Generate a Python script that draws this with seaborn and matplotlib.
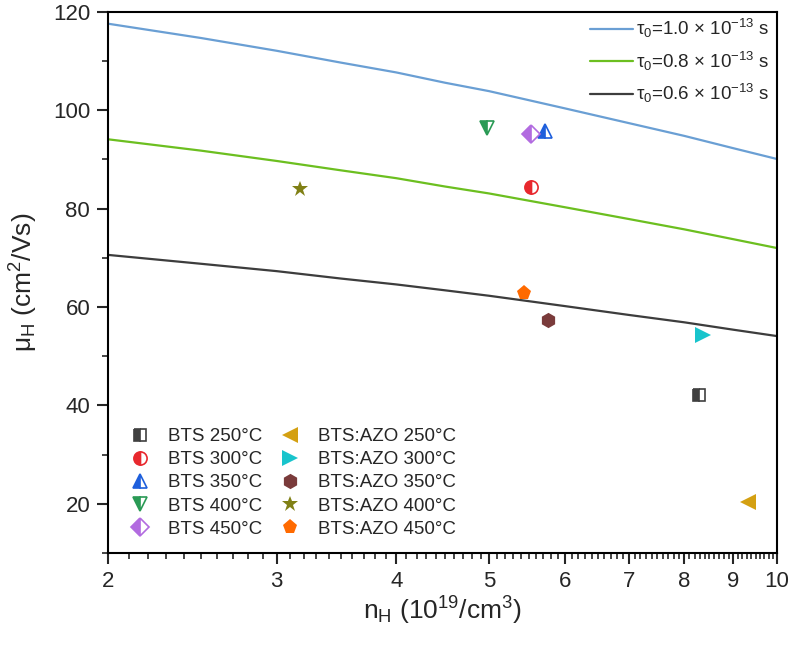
import matplotlib
matplotlib.use("Agg")
import matplotlib.pyplot as plt
from matplotlib.ticker import FixedLocator, FixedFormatter, MultipleLocator
import numpy as np
import pandas as pd
import seaborn as sns

# Curvas del modelo
n_curva = [2, 2.5, 3, 3.5, 4, 4.5, 5, 6, 7, 8, 9, 10]
mu_tau10 = [117.6, 114.7, 112.1, 109.7, 107.7, 105.6, 103.9, 100.4, 97.4, 94.8, 92.3, 90.1]
mu_tau08 = [94.1, 91.8, 89.7, 87.8, 86.2, 84.5, 83.1, 80.3, 77.9, 75.8, 73.8, 72.0]
mu_tau06 = [70.6, 68.8, 67.3, 65.8, 64.6, 63.4, 62.3, 60.2, 58.4, 56.9, 55.4, 54.1]
etiquetas_curva = [r"τ$_0$=1.0 × 10$^{-13}$ s",
                   r"τ$_0$=0.8 × 10$^{-13}$ s",
                   r"τ$_0$=0.6 × 10$^{-13}$ s"]
colores_curva = ["#6a9fd4", "#6cbf20", "#3d3d3d"]

# Puntos experimentales
etiquetas_bts = ["BTS 250°C", "BTS 300°C", "BTS 350°C", "BTS 400°C", "BTS 450°C"]
n_bts = [8.29, 5.53, 5.72, 4.98, 5.53]
mu_bts = [42.2, 84.4, 95.8, 96.4, 95.2]
etiquetas_azo = ["BTS:AZO 250°C", "BTS:AZO 300°C", "BTS:AZO 350°C",
                 "BTS:AZO 400°C", "BTS:AZO 450°C"]
n_azo = [9.33, 8.37, 5.76, 3.17, 5.44]
mu_azo = [20.4, 54.3, 57.4, 84.0, 62.9]

marcadores_bts = ["s", "o", "^", "v", "D"]
colores_bts = ["#404040", "#e8282e", "#1e5fdc", "#2a9a55", "#b26be0"]
tam_bts = [8, 9.5, 10, 10, 9]
marcadores_azo = ["<", ">", "h", "*", "p"]
colores_azo = ["#d4a012", "#18c4cc", "#7a3b3b", "#808015", "#ff6a00"]
tam_azo = [11, 11, 11, 12, 11]

sns.set_style("ticks")
plt.rcParams["font.family"] = ["Liberation Sans", "DejaVu Sans"]
plt.rcParams["mathtext.fontset"] = "custom"
plt.rcParams["mathtext.rm"] = "Liberation Sans"
plt.rcParams["mathtext.it"] = "Liberation Sans:italic"
plt.rcParams["mathtext.default"] = "rm"

fig = plt.figure(figsize=(7.9, 6.48), dpi=100)
ax = fig.add_axes([0.137, 0.1466, 0.8465, 0.835])

k = len(n_curva)
tabla = pd.DataFrame({
    "n": n_curva * 3,
    "mu": mu_tau10 + mu_tau08 + mu_tau06,
    "tau": [etiquetas_curva[0]] * k + [etiquetas_curva[1]] * k + [etiquetas_curva[2]] * k,
})
sns.lineplot(data=tabla, x="n", y="mu", hue="tau", hue_order=etiquetas_curva,
             palette=colores_curva, linewidth=1.6, ax=ax, legend=False)

manijas_curva = [plt.Line2D([], [], color=c, lw=1.6) for c in colores_curva]

manijas_pts = []
for i in range(5):
    h, = ax.plot([n_bts[i]], [mu_bts[i]], linestyle="none", marker=marcadores_bts[i],
                 markersize=tam_bts[i], color=colores_bts[i], fillstyle="left",
                 markerfacecoloralt="white", markeredgecolor=colores_bts[i],
                 markeredgewidth=1.2)
    manijas_pts.append(h)
for i in range(5):
    h, = ax.plot([n_azo[i]], [mu_azo[i]], linestyle="none", marker=marcadores_azo[i],
                 markersize=tam_azo[i], color=colores_azo[i], markeredgewidth=0)
    manijas_pts.append(h)

ax.set_xscale("log")
ax.set_xlim(2, 10)
ax.set_ylim(10, 120)
ax.xaxis.set_major_locator(FixedLocator([2, 3, 4, 5, 6, 7, 8, 9, 10]))
ax.xaxis.set_major_formatter(FixedFormatter(["2", "3", "4", "5", "6", "7", "8", "9", "10"]))
ax.xaxis.set_minor_locator(FixedLocator(np.arange(2.1, 10, 0.1)))
ax.xaxis.set_minor_formatter(FixedFormatter([]))
ax.yaxis.set_major_locator(MultipleLocator(20))
ax.yaxis.set_minor_locator(MultipleLocator(10))

for s in ax.spines.values():
    s.set_linewidth(1.5)
    s.set_color("black")
ax.tick_params(which="major", direction="out", length=8, width=1.5, labelsize=16, pad=5)
ax.tick_params(which="minor", direction="out", length=4.5, width=1.2)

ax.set_xlabel(r"n$_\mathrm{H}$ (10$^{19}$/cm$^3$)", fontsize=19, labelpad=2)
ax.set_ylabel(r"μ$_\mathrm{H}$ (cm$^2$/Vs)", fontsize=19, labelpad=9)

leg1 = ax.legend(manijas_curva, etiquetas_curva, loc="upper left",
                 bbox_to_anchor=(0.72, 0.99), frameon=False, fontsize=13.5,
                 handlelength=2.3, handletextpad=0.15, labelspacing=0.5,
                 borderpad=0, borderaxespad=0)
ax.add_artist(leg1)
ax.legend(manijas_pts, etiquetas_bts + etiquetas_azo, loc="upper left",
          bbox_to_anchor=(0.034, 0.231), ncol=2, frameon=False, fontsize=13.5,
          handlelength=1.0, handletextpad=1.0, labelspacing=0.32,
          columnspacing=0.95, borderpad=0, borderaxespad=0)

fig.savefig("out.png", dpi=100, facecolor="white")
